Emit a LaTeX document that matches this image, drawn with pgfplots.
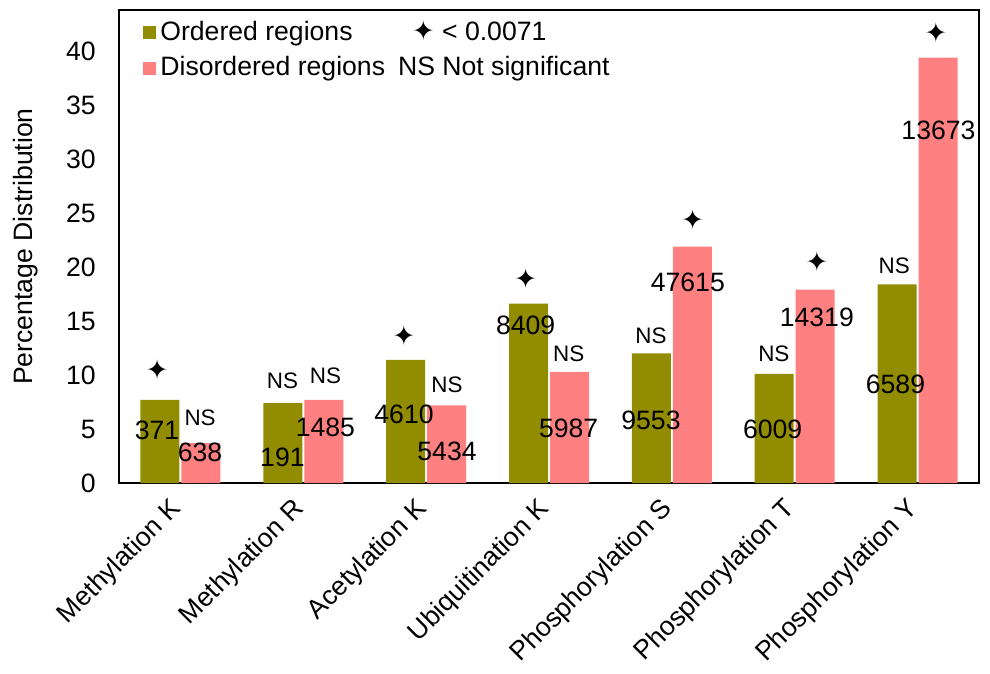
\documentclass[border=0pt]{standalone}
\usepackage{pgfplots}
\pgfplotsset{compat=1.18}
\usepackage{fontspec}
\setmainfont{Liberation Sans}
\newfontfamily\sym{DejaVu Sans}
\usetikzlibrary{calc}
\definecolor{olivebar}{RGB}{146,140,0}
\definecolor{salmonbar}{RGB}{255,128,128}
\newcommand\nf{\fontsize{13.3}{16}\selectfont}
\newcommand\nsf{\fontsize{11.2}{13}\selectfont}
\newcommand\st{{\sym\fontsize{13.5}{15}\selectfont ✦}}
\begin{document}
\nf
\begin{tikzpicture}
\begin{axis}[name=ax, scale only axis, width=430pt, height=236.5pt,
  xmin=-0.5, xmax=6.5, ymin=0, ymax=43.8,
  xtick={0,...,6},
  xticklabels={Methylation K, Methylation R, Acetylation K, Ubiquitination K, Phosphorylation S, Phosphorylation T, Phosphorylation Y},
  ytick={0,5,...,40}, major tick length=0pt,
  axis line style={line width=1pt},
  /pgf/number format/assume math mode=true,
  tick label style={font=\nf},
  xticklabel style={rotate=45, anchor=north east, font=\nf, xshift=-4.5pt, yshift=4.1pt},
  yticklabel style={xshift=-7pt},
  ylabel={Percentage Distribution},
  ylabel style={at={(axis description cs:-0.109,0.5)}, anchor=center, font=\nf},
  legend columns=2, legend cell align=left,
  legend style={draw=none, fill=none, at={(axis description cs:0,1)}, anchor=north west, xshift=9pt, yshift=-1pt, font=\nf, row sep=2pt, /tikz/every even column/.append style={column sep=2.5pt}},
  ybar, bar width=19.5pt,
]
\addplot[fill=olivebar, draw=none, bar shift=-10.25pt, legend image code/.code={\fill[olivebar] (0pt,-3.25pt) rectangle (6.5pt,3.25pt);}]
  coordinates {(0,7.7) (1,7.4) (2,11.4) (3,16.6) (4,12.0) (5,10.1) (6,18.4)};
\addlegendentry{Ordered regions}
\addlegendimage{empty legend}
\addlegendentry{\hspace{7pt}\st\ {<} 0.0071}
\addplot[fill=salmonbar, draw=none, bar shift=10.25pt, legend image code/.code={\fill[salmonbar] (0pt,-3.25pt) rectangle (6.5pt,3.25pt);}]
  coordinates {(0,3.7) (1,7.7) (2,7.2) (3,10.3) (4,21.9) (5,17.9) (6,39.4)};
\addlegendentry{Disordered regions}
\addlegendimage{empty legend}
\addlegendentry{NS Not significant}
% counts
\node[font=\nf] at (axis cs:-0.19,4.9) {371};
\node[font=\nf] at (axis cs:0.16,2.8) {638};
\node[font=\nf] at (axis cs:0.83,2.4) {191};
\node[font=\nf] at (axis cs:1.18,5.2) {1485};
\node[font=\nf] at (axis cs:1.82,6.4) {4610};
\node[font=\nf] at (axis cs:2.17,2.9) {5434};
\node[font=\nf] at (axis cs:2.81,14.6) {8409};
\node[font=\nf] at (axis cs:3.16,5.1) {5987};
\node[font=\nf] at (axis cs:3.83,5.8) {9553};
\node[font=\nf] at (axis cs:4.13,18.6) {47615};
\node[font=\nf] at (axis cs:4.82,5.0) {6009};
\node[font=\nf] at (axis cs:5.18,15.3) {14319};
\node[font=\nf] at (axis cs:5.82,9.1) {6589};
\node[font=\nf] at (axis cs:6.17,32.7) {13673};
% NS
\node[font=\nsf] at (axis cs:0.16,6.0) {NS};
\node[font=\nsf] at (axis cs:0.83,9.5) {NS};
\node[font=\nsf] at (axis cs:1.18,9.9) {NS};
\node[font=\nsf] at (axis cs:2.17,9.1) {NS};
\node[font=\nsf] at (axis cs:3.16,12.0) {NS};
\node[font=\nsf] at (axis cs:3.83,13.6) {NS};
\node[font=\nsf] at (axis cs:4.83,12.0) {NS};
\node[font=\nsf] at (axis cs:5.81,20.1) {NS};
% stars
\node at (axis cs:-0.19,10.5) {\st};
\node at (axis cs:1.82,13.6) {\st};
\node at (axis cs:2.81,18.9) {\st};
\node at (axis cs:4.17,24.4) {\st};
\node at (axis cs:5.18,20.5) {\st};
\node at (axis cs:6.15,41.7) {\st};
\end{axis}
\pgfresetboundingbox
\path ($(ax.south west)+(-59.5pt,-95pt)$) rectangle ($(ax.north east)+(5.5pt,5pt)$);
\end{tikzpicture}
\end{document}
